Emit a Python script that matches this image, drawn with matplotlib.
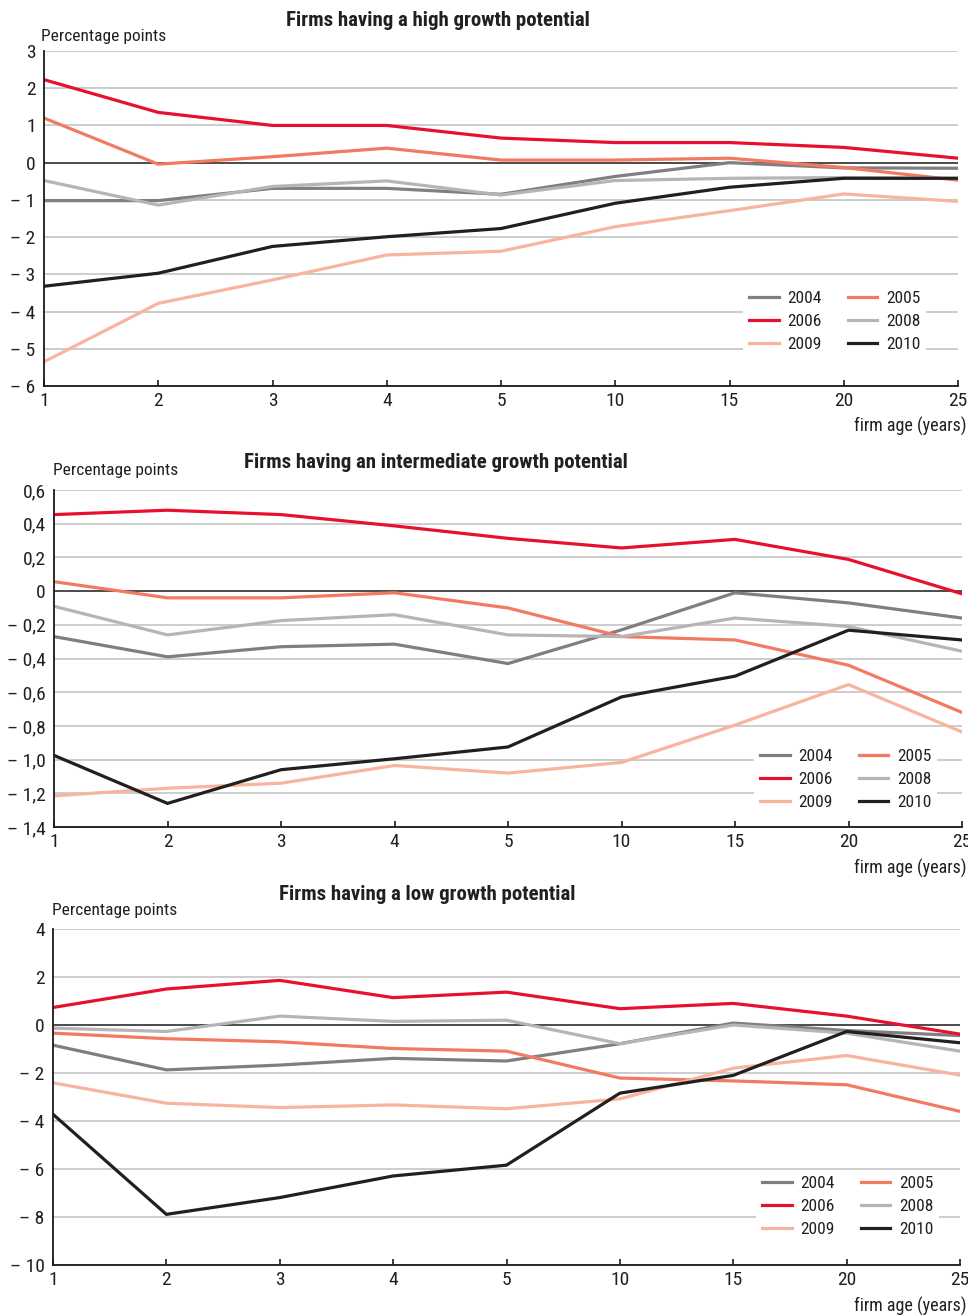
import matplotlib
matplotlib.use("Agg")
import matplotlib.pyplot as plt
from matplotlib.lines import Line2D

plt.rcParams['font.family'] = ['Roboto Condensed', 'DejaVu Sans']

# ---------------- data ----------------
ages = ["1", "2", "3", "4", "5", "10", "15", "20", "25"]
years = ["2004", "2005", "2006", "2008", "2009", "2010"]
colors = {"2004": "#7f7f81", "2005": "#f27a61", "2006": "#e8112d",
          "2008": "#b5b5b8", "2009": "#f8b49d", "2010": "#231f20"}

high_2004 = [-1.02, -1.02, -0.69, -0.69, -0.85, -0.37, 0.0, -0.14, -0.15]
high_2005 = [1.2, -0.04, 0.16, 0.39, 0.07, 0.07, 0.12, -0.13, -0.47]
high_2006 = [2.23, 1.35, 1.0, 1.0, 0.66, 0.54, 0.54, 0.41, 0.12]
high_2008 = [-0.48, -1.14, -0.64, -0.49, -0.87, -0.48, -0.42, -0.40, -0.42]
high_2009 = [-5.35, -3.78, -3.15, -2.48, -2.38, -1.72, -1.29, -0.84, -1.04]
high_2010 = [-3.32, -2.97, -2.25, -1.99, -1.77, -1.09, -0.66, -0.42, -0.42]

mid_2004 = [-0.27, -0.39, -0.33, -0.315, -0.43, -0.23, -0.01, -0.07, -0.16]
mid_2005 = [0.056, -0.04, -0.04, -0.01, -0.10, -0.27, -0.29, -0.44, -0.72]
mid_2006 = [0.454, 0.48, 0.454, 0.387, 0.313, 0.256, 0.307, 0.188, -0.016]
mid_2008 = [-0.09, -0.26, -0.175, -0.14, -0.26, -0.27, -0.16, -0.21, -0.357]
mid_2009 = [-1.215, -1.17, -1.14, -1.035, -1.08, -1.017, -0.795, -0.555, -0.836]
mid_2010 = [-0.975, -1.26, -1.06, -0.995, -0.925, -0.628, -0.505, -0.232, -0.29]

low_2004 = [-0.84, -1.87, -1.67, -1.39, -1.50, -0.78, 0.08, -0.23, -0.44]
low_2005 = [-0.34, -0.57, -0.70, -0.98, -1.09, -2.21, -2.33, -2.49, -3.60]
low_2006 = [0.73, 1.50, 1.86, 1.14, 1.37, 0.68, 0.90, 0.37, -0.38]
low_2008 = [-0.13, -0.27, 0.37, 0.15, 0.20, -0.78, 0.0, -0.34, -1.09]
low_2009 = [-2.41, -3.26, -3.44, -3.33, -3.49, -3.08, -1.80, -1.27, -2.09]
low_2010 = [-3.72, -7.89, -7.19, -6.29, -5.84, -2.84, -2.10, -0.27, -0.74]

titles = ["Firms having a high growth potential",
          "Firms having an intermediate growth potential",
          "Firms having a low growth potential"]
ylabel_txt = "Percentage points"
xlabel_txt = "firm age (years)"

high_ticks = [3, 2, 1, 0, -1, -2, -3, -4, -5, -6]
high_ticklabels = ["3", "2", "1", "0", "\u2013 1", "\u2013 2", "\u2013 3", "\u2013 4", "\u2013 5", "\u2013 6"]
mid_ticks = [0.6, 0.4, 0.2, 0, -0.2, -0.4, -0.6, -0.8, -1.0, -1.2, -1.4]
mid_ticklabels = ["0,6", "0,4", "0,2", "0", "\u2013 0,2", "\u2013 0,4", "\u2013 0,6", "\u2013 0,8",
                  "\u2013 1,0", "\u2013 1,2", "\u2013 1,4"]
low_ticks = [4, 2, 0, -2, -4, -6, -8, -10]
low_ticklabels = ["4", "2", "0", "\u2013 2", "\u2013 4", "\u2013 6", "\u2013 8", "\u2013 10"]

panels = [
    dict(series=[high_2004, high_2005, high_2006, high_2008, high_2009, high_2010],
         ticks=high_ticks, labels=high_ticklabels,
         box=(44, 958, 51, 386), title_xy=(438, 21), ylab_xy=(41, 37), xlab_y=426,
         leg_xy=(743, 285)),
    dict(series=[mid_2004, mid_2005, mid_2006, mid_2008, mid_2009, mid_2010],
         ticks=mid_ticks, labels=mid_ticklabels,
         box=(54, 962, 490, 827), title_xy=(436, 463), ylab_xy=(53, 470), xlab_y=868,
         leg_xy=(754, 743)),
    dict(series=[low_2004, low_2005, low_2006, low_2008, low_2009, low_2010],
         ticks=low_ticks, labels=low_ticklabels,
         box=(53, 960, 929, 1265), title_xy=(427, 894), ylab_xy=(52, 911), xlab_y=1306,
         leg_xy=(756, 1170)),
]

W, H = 968, 1316
fig = plt.figure(figsize=(W / 100, H / 100), dpi=100)
fig.patch.set_facecolor("white")

xs = list(range(len(ages)))
for idx, p in enumerate(panels):
    l, r, t, b = p["box"]
    ax = fig.add_axes([l / W, 1 - b / H, (r - l) / W, (b - t) / H])
    ax.set_xlim(0, len(ages) - 1)
    ax.set_ylim(min(p["ticks"]), max(p["ticks"]))
    ax.set_yticks(p["ticks"])
    ax.set_yticklabels(p["labels"])
    ax.set_xticks(xs)
    ax.set_xticklabels(ages)
    for yv in p["ticks"]:
        if yv != 0:
            ax.axhline(yv, color="#c9c9c9", lw=1.3, zorder=1)
    ax.axhline(0, color="#1a1a1a", lw=1.1, zorder=2)
    for yr, s in zip(years, p["series"]):
        ax.plot(xs, s, color=colors[yr], lw=2.3, zorder=3, solid_joinstyle="miter")
    for side in ("top", "right"):
        ax.spines[side].set_visible(False)
    for side in ("left", "bottom"):
        ax.spines[side].set_color("#1a1a1a")
        ax.spines[side].set_linewidth(1.3)
        ax.spines[side].set_zorder(4)
    ax.tick_params(axis="y", length=0, pad=6, labelsize=14, labelcolor="#231f20")
    ax.tick_params(axis="x", direction="in", length=4, width=1.2, pad=4, labelsize=14,
                   labelcolor="#231f20", color="#1a1a1a")
    ax.set_facecolor("white")

    order = [0, 2, 4, 1, 3, 5]
    handles = [Line2D([0], [0], color=colors[years[i]], lw=2.3) for i in order]
    labs = [years[i] for i in order]
    lx, ly = p["leg_xy"]
    leg = ax.legend(handles, labs, ncol=2, loc="upper left",
                    bbox_to_anchor=(lx / W, 1 - ly / H), bbox_transform=fig.transFigure,
                    fontsize=12.5, frameon=True, framealpha=1, facecolor="white",
                    edgecolor="none", fancybox=False, handlelength=1.7, handletextpad=0.5,
                    columnspacing=1.5, labelspacing=0.45, borderpad=0.35, borderaxespad=0)
    for txt in leg.get_texts():
        txt.set_color("#231f20")
    leg.set_zorder(5)

    tx, ty = p["title_xy"]
    fig.text(tx / W, 1 - ty / H, titles[idx], ha="center", va="center",
             fontsize=15, fontweight="bold", color="#231f20")
    yx, yy = p["ylab_xy"]
    fig.text(yx / W, 1 - yy / H, ylabel_txt, ha="left", va="center", fontsize=12.5,
             color="#231f20")
    fig.text(966 / W, 1 - p["xlab_y"] / H, xlabel_txt, ha="right", va="center",
             fontsize=13, color="#231f20")

fig.savefig("out.png", dpi=100, facecolor="white")
